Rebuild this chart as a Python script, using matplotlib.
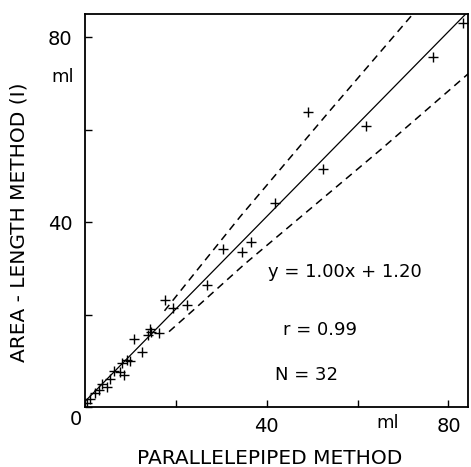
import matplotlib
matplotlib.use("Agg")
import matplotlib.pyplot as plt

# ---- data ----
parallelepiped = [0.5, 1.0, 2.2, 3.0, 3.8, 4.8, 5.6, 6.3, 7.8, 8.2, 8.5, 9.2, 10.0,
                  12.5, 10.8, 13.9, 14.3, 14.6, 16.2,
                  17.7, 19.4, 22.4, 26.8, 30.3, 34.5, 36.5, 41.8, 49.1, 52.4, 61.9, 76.6, 83.3]
area_length = [0.8, 1.8, 3.0, 3.6, 5.0, 4.4, 6.0, 7.8, 7.6, 9.6, 7.0, 10.2, 10.0,
               11.8, 14.8, 15.6, 16.8, 16.2, 16.1,
               23.1, 21.4, 22.0, 26.3, 34.1, 33.5, 35.7, 44.2, 63.8, 51.5, 60.7, 75.8, 83.0]

slope = 1.00
intercept = 1.20

upper_band_x = [17.5, 25.0, 34.1, 54.0, 72.0]
upper_band_y = [20.8, 30.0, 41.1, 64.2, 84.8]
lower_band_x = [18.5, 23.9, 35.0, 47.7, 65.0, 84.5]
lower_band_y = [16.3, 21.0, 30.8, 41.3, 55.6, 72.2]

xticks = [0, 20, 40, 60, 80]
xticklabels = ["", "", "40", "", "80"]
yticks = [0, 20, 40, 60, 80]
yticklabels = ["", "", "40", "", "80"]

eq_text = "y = 1.00x + 1.20"
r_text = "r = 0.99"
n_text = "N = 32"
xlabel = "PARALLELEPIPED METHOD"
ylabel = "AREA - LENGTH METHOD (I)"
unit = "ml"

# ---- figure ----
fig = plt.figure(figsize=(4.71, 4.67), dpi=100)
L, R, B, T = 85 / 471, 468 / 471, 1 - 407 / 467, 1 - 14 / 467
ax = fig.add_axes([L, B, R - L, T - B])
ax.set_xlim(0, 84.3)
ax.set_ylim(0, 85.0)

ax.plot(parallelepiped, area_length, linestyle="none", marker="+",
        markersize=7, markeredgewidth=1.0, color="black")
ax.axline((0, intercept), slope=slope, color="black", linewidth=0.9)
ax.plot(upper_band_x, upper_band_y, color="black", linewidth=1.1,
        linestyle=(0, (5, 3.5)))
ax.plot(lower_band_x, lower_band_y, color="black", linewidth=1.1,
        linestyle=(0, (5, 3.5)))

for s in ax.spines.values():
    s.set_linewidth(1.3)

ax.set_xticks(xticks)
ax.set_xticklabels(xticklabels)
ax.set_yticks(yticks)
ax.set_yticklabels(yticklabels)
ax.tick_params(direction="in", length=5, width=1.0, labelsize=14, pad=7)
ax.tick_params(axis="y", pad=9)

# corner zero and units
ax.text(-2.0, -2.8, "0", fontsize=14, ha="center", va="center", clip_on=False)
ax.text(66.7, -0.041, unit, transform=ax.get_xaxis_transform(), fontsize=13,
        ha="center", va="center", clip_on=False)
ax.text(-0.058, 71.4, unit, transform=ax.get_yaxis_transform(), fontsize=13,
        ha="center", va="center", clip_on=False)

# statistics
ax.text(40.3, 29.2, eq_text, fontsize=13, ha="left", va="center")
ax.text(43.6, 16.6, r_text, fontsize=13, ha="left", va="center")
ax.text(41.9, 6.9, n_text, fontsize=13, ha="left", va="center")

ax.set_xlabel(xlabel, fontsize=14.5, va="center")
ax.xaxis.set_label_coords((270 - 85) / 383, -(458 - 407) / 393)
ax.set_ylabel(ylabel, fontsize=14.5, va="center")
ax.yaxis.set_label_coords((19 - 85) / 383, (407 - 222) / 393)

fig.savefig("out.png", dpi=100)
